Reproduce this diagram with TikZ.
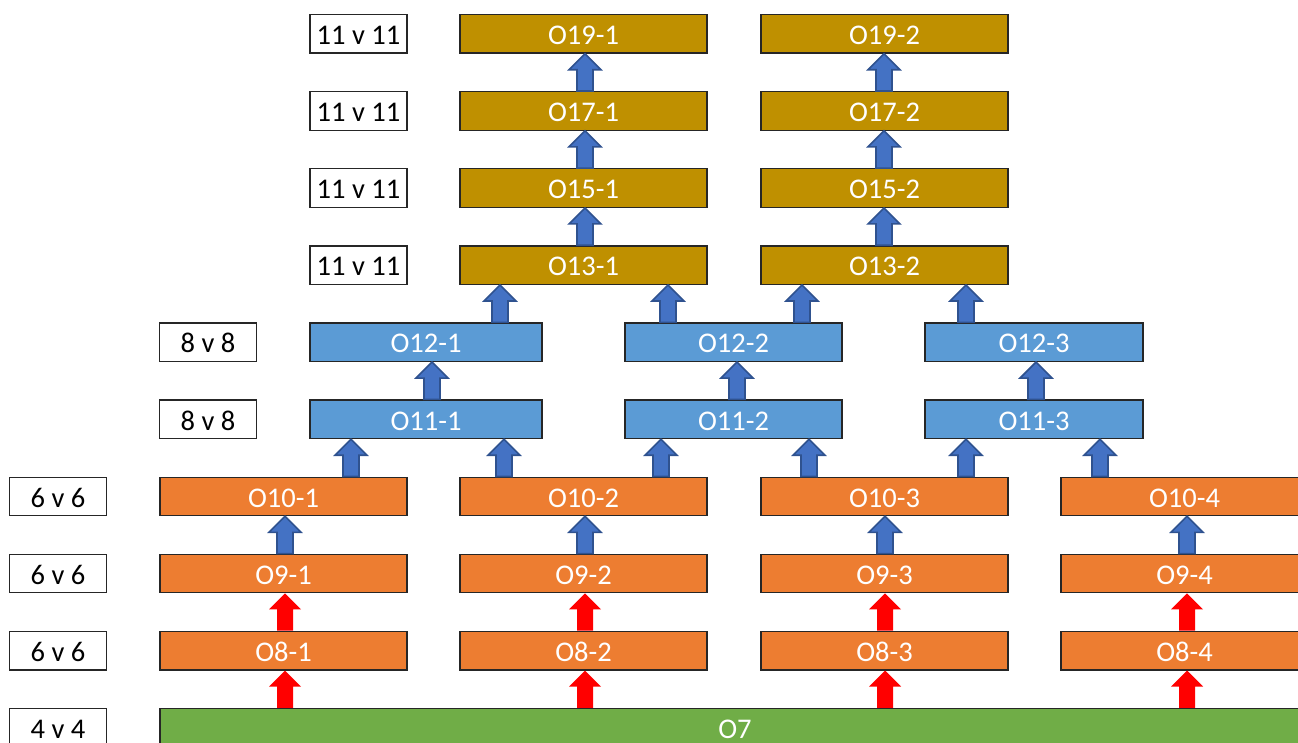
\documentclass[tikz,border=0pt]{standalone}
\usepackage{fontspec}
\setmainfont{Carlito}
\usetikzlibrary{calc}

\definecolor{goldfill}{HTML}{BF9000}
\definecolor{bluefill}{HTML}{5B9BD5}
\definecolor{orangefill}{HTML}{ED7D31}
\definecolor{greenfill}{HTML}{70AD47}
\definecolor{arrowblue}{HTML}{4472C4}
\definecolor{arrowedge}{HTML}{2F528F}
\definecolor{arrowred}{HTML}{FF0000}
\definecolor{edgegray}{HTML}{262626}

\tikzset{
  box/.style={draw=edgegray, line width=1.3pt, minimum height=38.5pt,
    inner sep=0pt, text height=21.5pt, text depth=0pt,
    font=\fontsize{28.5}{30}\selectfont, text=white},
  goldbox/.style={box, fill=goldfill, minimum width=247pt},
  bluebox/.style={box, fill=bluefill},
  orangebox/.style={box, fill=orangefill, minimum width=247pt},
  greenbox/.style={box, fill=greenfill},
  tagbox/.style={box, fill=white, text=black, minimum width=97pt},
  bluearrow/.style={fill=arrowblue, draw=arrowedge, line width=1.6pt, line join=miter},
  redarrow/.style={fill=arrowred},
}

% block arrow: style, x position, lower node, upper node
\newcommand\uparr[4]{%
  \path[#1] let \p1=(#3.north), \p2=(#4.south) in
    (#2pt-8pt,\y1) -- (#2pt+8pt,\y1) -- (#2pt+8pt,\y2-16pt)
    -- (#2pt+16pt,\y2-16pt) -- (#2pt,\y2) -- (#2pt-16pt,\y2-16pt)
    -- (#2pt-8pt,\y2-16pt) -- cycle;}

\begin{document}
\begin{tikzpicture}[x=1pt, y=-1pt]
\useasboundingbox (0,0) rectangle (1298,742);
\clip (0,0) rectangle (1298,742);

% row labels
\node[tagbox] (t19) at (358.5,33.8)  {11 v 11};
\node[tagbox] (t17) at (358.5,110.9) {11 v 11};
\node[tagbox] (t15) at (358.5,188.0) {11 v 11};
\node[tagbox] (t13) at (358.5,265.1) {11 v 11};
\node[tagbox] (t12) at (208,342.2)   {8 v 8};
\node[tagbox] (t11) at (208,419.3)   {8 v 8};
\node[tagbox] (t10) at (58,496.4)    {6 v 6};
\node[tagbox] (t9)  at (58,573.5)    {6 v 6};
\node[tagbox] (t8)  at (58,650.6)    {6 v 6};
\node[tagbox] (t7)  at (58,727.7)    {4 v 4};

% gold rows
\node[goldbox] (O19-1) at (583.5,33.8)  {O19-1};
\node[goldbox] (O19-2) at (884.5,33.8)  {O19-2};
\node[goldbox] (O17-1) at (583.5,110.9) {O17-1};
\node[goldbox] (O17-2) at (884.5,110.9) {O17-2};
\node[goldbox] (O15-1) at (583.5,188.0) {O15-1};
\node[goldbox] (O15-2) at (884.5,188.0) {O15-2};
\node[goldbox] (O13-1) at (583.5,265.1) {O13-1};
\node[goldbox] (O13-2) at (884.5,265.1) {O13-2};

% blue rows
\node[bluebox, minimum width=232pt] (O12-1) at (426,342.2)    {O12-1};
\node[bluebox, minimum width=217pt] (O12-2) at (733.5,342.2)  {O12-2};
\node[bluebox, minimum width=218pt] (O12-3) at (1034,342.2)   {O12-3};
\node[bluebox, minimum width=232pt] (O11-1) at (426,419.3)    {O11-1};
\node[bluebox, minimum width=217pt] (O11-2) at (733.5,419.3)  {O11-2};
\node[bluebox, minimum width=218pt] (O11-3) at (1034,419.3)   {O11-3};

% orange rows
\node[orangebox] (O10-1) at (283.5,496.4)  {O10-1};
\node[orangebox] (O10-2) at (583.5,496.4)  {O10-2};
\node[orangebox] (O10-3) at (884.5,496.4)  {O10-3};
\node[orangebox] (O10-4) at (1184.5,496.4) {O10-4};
\node[orangebox] (O9-1) at (283.5,573.5)   {O9-1};
\node[orangebox] (O9-2) at (583.5,573.5)   {O9-2};
\node[orangebox] (O9-3) at (884.5,573.5)   {O9-3};
\node[orangebox] (O9-4) at (1184.5,573.5)  {O9-4};
\node[orangebox] (O8-1) at (283.5,650.6)   {O8-1};
\node[orangebox] (O8-2) at (583.5,650.6)   {O8-2};
\node[orangebox] (O8-3) at (884.5,650.6)   {O8-3};
\node[orangebox] (O8-4) at (1184.5,650.6)  {O8-4};

% base
\node[greenbox, minimum width=1150pt] (O7) at (735,727.7) {O7};

% red arrows
\uparr{redarrow}{285}{O7}{O8-1}
\uparr{redarrow}{585}{O7}{O8-2}
\uparr{redarrow}{885}{O7}{O8-3}
\uparr{redarrow}{1187}{O7}{O8-4}
\uparr{redarrow}{285}{O8-1}{O9-1}
\uparr{redarrow}{585}{O8-2}{O9-2}
\uparr{redarrow}{885}{O8-3}{O9-3}
\uparr{redarrow}{1187}{O8-4}{O9-4}

% blue arrows
\uparr{bluearrow}{285}{O9-1}{O10-1}
\uparr{bluearrow}{585}{O9-2}{O10-2}
\uparr{bluearrow}{885}{O9-3}{O10-3}
\uparr{bluearrow}{1187}{O9-4}{O10-4}

\uparr{bluearrow}{351}{O10-1}{O11-1}
\uparr{bluearrow}{504}{O10-2}{O11-1}
\uparr{bluearrow}{661}{O10-2}{O11-2}
\uparr{bluearrow}{809}{O10-3}{O11-2}
\uparr{bluearrow}{966}{O10-3}{O11-3}
\uparr{bluearrow}{1100}{O10-4}{O11-3}

\uparr{bluearrow}{432}{O11-1}{O12-1}
\uparr{bluearrow}{737}{O11-2}{O12-2}
\uparr{bluearrow}{1036}{O11-3}{O12-3}

\uparr{bluearrow}{500}{O12-1}{O13-1}
\uparr{bluearrow}{668}{O12-2}{O13-1}
\uparr{bluearrow}{802}{O12-2}{O13-2}
\uparr{bluearrow}{966}{O12-3}{O13-2}

\uparr{bluearrow}{585}{O13-1}{O15-1}
\uparr{bluearrow}{884}{O13-2}{O15-2}
\uparr{bluearrow}{585}{O15-1}{O17-1}
\uparr{bluearrow}{884}{O15-2}{O17-2}
\uparr{bluearrow}{585}{O17-1}{O19-1}
\uparr{bluearrow}{884}{O17-2}{O19-2}
\end{tikzpicture}
\end{document}
